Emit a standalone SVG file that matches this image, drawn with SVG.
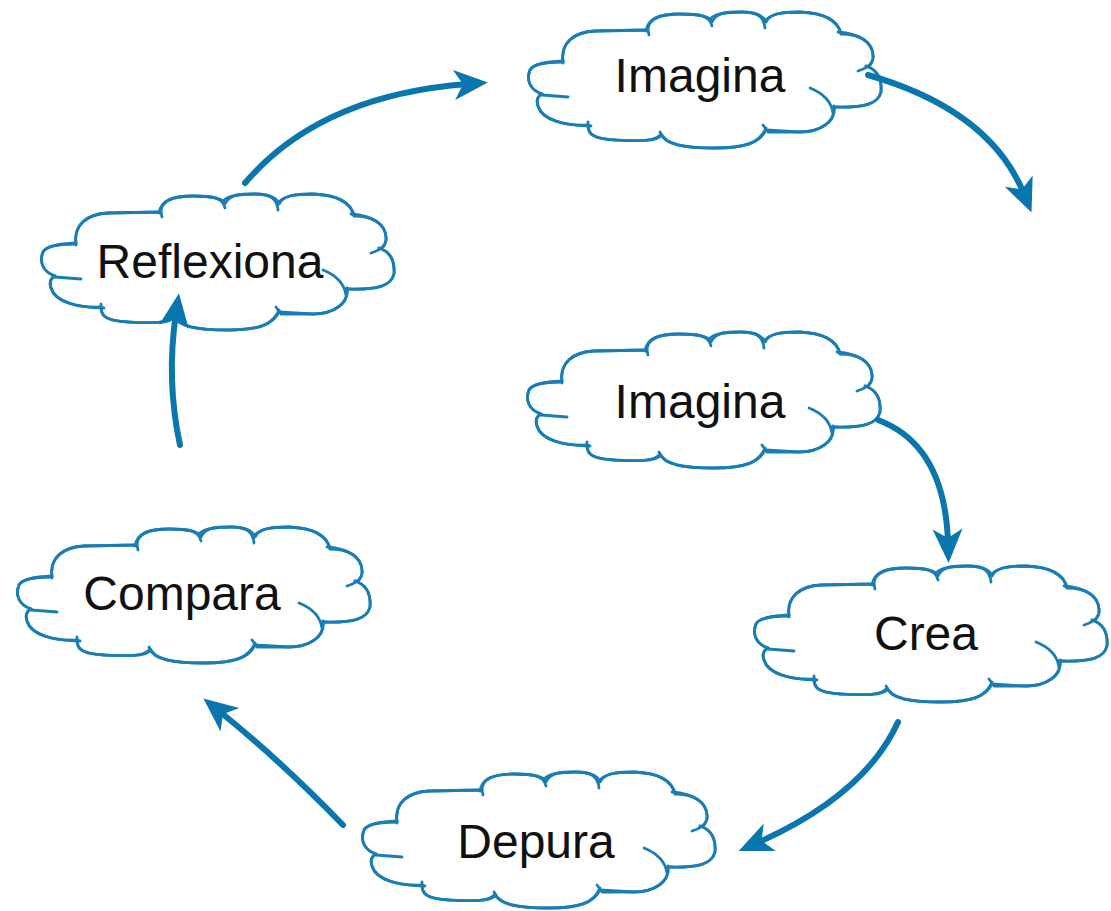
<svg xmlns="http://www.w3.org/2000/svg" xmlns:xlink="http://www.w3.org/1999/xlink" width="1111" height="911" viewBox="0 0 1111 911">
  <style>
    .cloud { fill: #ffffff; stroke: #1a7db3; stroke-width: 2.8; stroke-linecap: round; stroke-linejoin: round; }
    .cloud-line { fill: none; stroke: #1a7db3; stroke-width: 2.8; stroke-linecap: round; stroke-linejoin: round; }
    .label { font-family: "Liberation Sans", Arial, sans-serif; font-size: 48px; fill: #111111; text-anchor: middle; }
    .arrow { fill: none; stroke: #0a76ae; stroke-width: 6; stroke-linecap: round; marker-end: url(#head); }
  </style>
  <defs>
    <marker id="head" markerUnits="userSpaceOnUse" viewBox="-36 -18 38 36" refX="-20" refY="0" markerWidth="38" markerHeight="36" orient="auto">
      <path d="M0,0 L-34,-15 L-25,0 L-34,15 Z" fill="#0a76ae"/>
    </marker>
    <!-- scalloped cloud outline, drawn lobe by lobe so each cusp shows a small hook -->
    <symbol id="cloud" overflow="visible">
      <path class="cloud" stroke="none" d="M43,62 C40,42 55,32 75,31 L128,30 C128,18 140,14 160,14 C180,14 190,16 192,22 C196,13 205,12 222,12 C238,12 244,17 246,22 C250,14 260,12 280,12 C305,13 318,20 321,34 C340,34 352,42 353,55 C354,63 348,68 346,66 C358,70 362,80 361,92 C358,104 345,108 314,107 C316,122 300,132 280,132 L246,130 C240,143 225,148 195,148 C165,148 145,145 141,134 C136,142 118,141 95,140 C78,139 66,136 69,125 C45,126 22,120 18,106 C16,100 18,96 22,94 C10,90 6,80 10,70 C13,64 25,62 43,62 Z"/>
      <path class="cloud-line" d="M43,63 C40,42 55,32 75,31 L128,30 L129,35"/>
      <path class="cloud-line" d="M126,31 C128,18 140,14 160,14 C180,14 190,16 192,26"/>
      <path class="cloud-line" d="M190,19 C196,13 205,12 222,12 C238,12 244,17 245,28"/>
      <path class="cloud-line" d="M244,22 C250,14 260,12 280,12 C305,13 318,20 321,34"/>
      <path class="cloud-line" d="M318,32 C340,34 352,42 353,55 C354,63 348,68 338,71"/>
      <path class="cloud-line" d="M346,66 C358,70 362,80 361,92 C358,104 345,108 313,107"/>
      <path class="cloud-line" d="M290,88 C300,92 311,100 313,113"/>
      <path class="cloud-line" d="M314,106 C316,122 300,132 280,132 L248,132 L243,125"/>
      <path class="cloud-line" d="M246,128 C240,143 225,148 195,148 C165,148 145,145 140,132"/>
      <path class="cloud-line" d="M142,135 C136,142 118,141 95,140 C78,139 66,136 68,122"/>
      <path class="cloud-line" d="M71,126 C45,126 22,120 18,106 C16,100 18,96 22,94"/>
      <path class="cloud-line" d="M22,95 L48,97"/>
      <path class="cloud-line" d="M22,94 C10,90 6,80 10,70 C13,64 25,62 43,61"/>
    </symbol>
  </defs>

  <rect width="1111" height="911" fill="#ffffff"/>

  <g id="imagina-top">
    <use xlink:href="#cloud" x="520" y="0"/>
    <text class="label" x="700" y="92">Imagina</text>
  </g>
  <g id="imagina">
    <use xlink:href="#cloud" x="519" y="320"/>
    <text class="label" x="700" y="418">Imagina</text>
  </g>
  <g id="crea">
    <use xlink:href="#cloud" x="746" y="554"/>
    <text class="label" x="926" y="650">Crea</text>
  </g>
  <g id="depura">
    <use xlink:href="#cloud" x="354" y="760"/>
    <text class="label" x="536" y="858">Depura</text>
  </g>
  <g id="compara">
    <use xlink:href="#cloud" x="9" y="515"/>
    <text class="label" x="182" y="610">Compara</text>
  </g>
  <g id="reflexiona">
    <use xlink:href="#cloud" x="33" y="182"/>
    <text class="label" x="210" y="278">Reflexiona</text>
  </g>

  <!-- connectors drawn last so arrowheads sit on top of the cloud outlines -->
  <g id="connectors">
    <path class="arrow" d="M245,183 Q320,95 468,84"/>
    <path class="arrow" d="M868,75 Q990,110 1024,194"/>
    <path class="arrow" d="M878,420 Q945,445 948,543"/>
    <path class="arrow" d="M898,722 Q865,795 757,843"/>
    <path class="arrow" d="M343,825 Q280,760 219,711"/>
    <path class="arrow" d="M180,445 Q166,380 176,313"/>
  </g>
</svg>
